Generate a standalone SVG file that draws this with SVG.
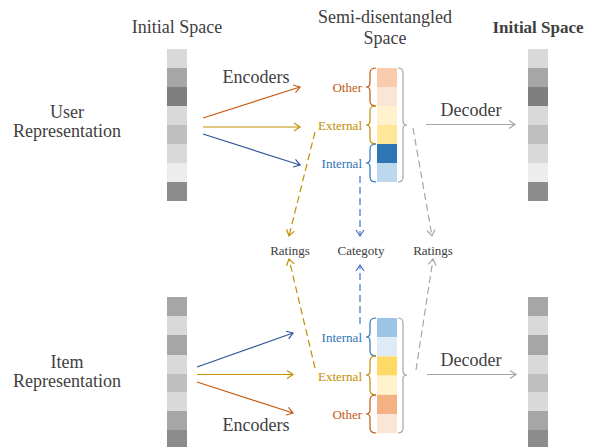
<svg xmlns="http://www.w3.org/2000/svg" width="592" height="447" viewBox="0 0 592 447" font-family="'Liberation Serif', 'DejaVu Serif', serif">
<defs>
<style>
text{font-family:'Liberation Serif','DejaVu Serif',serif;fill:#404040}
.big{font-size:18px}
.bold{font-size:17px;font-weight:bold}
.sm{font-size:13px}
.mid{text-anchor:middle}
.end{text-anchor:end}
.co{fill:#c55a11}.cy{fill:#bf9000}.cb{fill:#2e75b6}
.ln{fill:none;stroke-width:1.2}
.dash{stroke-dasharray:7 4}
.so{stroke:#c55a11}.sy{stroke:#bf9000}.sb{stroke:#2f5597}.sbl{stroke:#4472c4}.sg{stroke:#a6a6a6}
.br{fill:none;stroke-width:1.2}
</style>
<marker id="mo" markerUnits="userSpaceOnUse" markerWidth="12" markerHeight="12" viewBox="-8 -6 10 12" refX="0" refY="0" orient="auto"><path d="M-6,-4 L0,0 L-6,4" fill="none" stroke="#c55a11" stroke-width="1.2"/></marker>
<marker id="my" markerUnits="userSpaceOnUse" markerWidth="12" markerHeight="12" viewBox="-8 -6 10 12" refX="0" refY="0" orient="auto"><path d="M-6,-4 L0,0 L-6,4" fill="none" stroke="#bf9000" stroke-width="1.2"/></marker>
<marker id="mb" markerUnits="userSpaceOnUse" markerWidth="12" markerHeight="12" viewBox="-8 -6 10 12" refX="0" refY="0" orient="auto"><path d="M-6,-4 L0,0 L-6,4" fill="none" stroke="#2f5597" stroke-width="1.2"/></marker>
<marker id="mbl" markerUnits="userSpaceOnUse" markerWidth="12" markerHeight="12" viewBox="-8 -6 10 12" refX="0" refY="0" orient="auto"><path d="M-6,-4 L0,0 L-6,4" fill="none" stroke="#4472c4" stroke-width="1.2"/></marker>
<marker id="mg" markerUnits="userSpaceOnUse" markerWidth="12" markerHeight="12" viewBox="-8 -6 10 12" refX="0" refY="0" orient="auto"><path d="M-6,-4 L0,0 L-6,4" fill="none" stroke="#a6a6a6" stroke-width="1.2"/></marker>
</defs>
<rect width="592" height="447" fill="#ffffff"/>

<g id="headers">
<text class="big mid" x="177" y="33">Initial Space</text>
<text class="big mid" x="385" y="23">Semi-disentangled</text>
<text class="big mid" x="385" y="44">Space</text>
<text class="bold mid" x="538" y="33">Initial Space</text>
</g>

<g id="user-label">
<text class="big mid" x="67" y="118">User</text>
<text class="big mid" x="67" y="137">Representation</text>
</g>
<g id="item-label">
<text class="big mid" x="67" y="368">Item</text>
<text class="big mid" x="67" y="387">Representation</text>
</g>

<g id="user-initial">
<rect x="167" y="49" width="20" height="19" fill="#d9d9d9"/>
<rect x="167" y="68" width="20" height="19" fill="#a6a6a6"/>
<rect x="167" y="87" width="20" height="19" fill="#7f7f7f"/>
<rect x="167" y="106" width="20" height="19" fill="#d9d9d9"/>
<rect x="167" y="125" width="20" height="19" fill="#bfbfbf"/>
<rect x="167" y="144" width="20" height="19" fill="#d9d9d9"/>
<rect x="167" y="163" width="20" height="19" fill="#ededed"/>
<rect x="167" y="182" width="20" height="19" fill="#8c8c8c"/>
</g>
<g id="user-reconstructed">
<rect x="528" y="49" width="20" height="19" fill="#d9d9d9"/>
<rect x="528" y="68" width="20" height="19" fill="#a6a6a6"/>
<rect x="528" y="87" width="20" height="19" fill="#7f7f7f"/>
<rect x="528" y="106" width="20" height="19" fill="#d9d9d9"/>
<rect x="528" y="125" width="20" height="19" fill="#bfbfbf"/>
<rect x="528" y="144" width="20" height="19" fill="#d9d9d9"/>
<rect x="528" y="163" width="20" height="19" fill="#ededed"/>
<rect x="528" y="182" width="20" height="19" fill="#8c8c8c"/>
</g>
<g id="item-initial">
<rect x="167" y="297" width="20" height="19" fill="#a6a6a6"/>
<rect x="167" y="316" width="20" height="19" fill="#d9d9d9"/>
<rect x="167" y="335" width="20" height="20" fill="#a6a6a6"/>
<rect x="167" y="355" width="20" height="19" fill="#d9d9d9"/>
<rect x="167" y="374" width="20" height="18" fill="#bfbfbf"/>
<rect x="167" y="392" width="20" height="19" fill="#d9d9d9"/>
<rect x="167" y="411" width="20" height="19" fill="#a6a6a6"/>
<rect x="167" y="430" width="20" height="19" fill="#8c8c8c"/>
</g>
<g id="item-reconstructed">
<rect x="528" y="297" width="20" height="19" fill="#a6a6a6"/>
<rect x="528" y="316" width="20" height="19" fill="#d9d9d9"/>
<rect x="528" y="335" width="20" height="20" fill="#a6a6a6"/>
<rect x="528" y="355" width="20" height="19" fill="#d9d9d9"/>
<rect x="528" y="374" width="20" height="18" fill="#bfbfbf"/>
<rect x="528" y="392" width="20" height="19" fill="#d9d9d9"/>
<rect x="528" y="411" width="20" height="19" fill="#a6a6a6"/>
<rect x="528" y="430" width="20" height="19" fill="#8c8c8c"/>
</g>

<g id="user-semi">
<rect x="377" y="68" width="20" height="19" fill="#f8cbad"/>
<rect x="377" y="87" width="20" height="19" fill="#fbe5d6"/>
<rect x="377" y="106" width="20" height="19" fill="#fff2cc"/>
<rect x="377" y="125" width="20" height="19" fill="#ffe699"/>
<rect x="377" y="144" width="20" height="19" fill="#2e75b6"/>
<rect x="377" y="163" width="20" height="19" fill="#bdd7ee"/>
<path class="br so" d="M376,68 Q370,68 370,73 L370,83 Q370,87 366,87 Q370,87 370,91 L370,101 Q370,106 376,106"/>
<path class="br sy" d="M376,106 Q370,106 370,111 L370,121 Q370,125 366,125 Q370,125 370,129 L370,139 Q370,144 376,144"/>
<path class="br" stroke="#2e75b6" d="M376,144 Q370,144 370,149 L370,159 Q370,163 366,163 Q370,163 370,167 L370,177 Q370,182 376,182"/>
<path class="br sg" d="M398,68 Q403,68 403,73 L403,121 Q403,125 407,125 Q403,125 403,129 L403,177 Q403,182 398,182"/>
<text class="sm end co" x="362" y="92">Other</text>
<text class="sm end cy" x="362" y="130">External</text>
<text class="sm end cb" x="362" y="168">Internal</text>
</g>

<g id="item-semi">
<rect x="377" y="318" width="20" height="19.2" fill="#9dc3e6"/>
<rect x="377" y="337.2" width="20" height="19.2" fill="#deebf7"/>
<rect x="377" y="356.4" width="20" height="19.2" fill="#ffd966"/>
<rect x="377" y="375.6" width="20" height="19.2" fill="#fff2cc"/>
<rect x="377" y="394.8" width="20" height="19.2" fill="#f4b183"/>
<rect x="377" y="414" width="20" height="19.2" fill="#fbe5d6"/>
<path class="br" stroke="#2e75b6" d="M376,318 Q370,318 370,323 L370,333 Q370,337 366,337 Q370,337 370,341 L370,351 Q370,356 376,356"/>
<path class="br sy" d="M376,356 Q370,356 370,361 L370,371 Q370,375 366,375 Q370,375 370,379 L370,390 Q370,395 376,395"/>
<path class="br so" d="M376,395 Q370,395 370,400 L370,410 Q370,414 366,414 Q370,414 370,418 L370,428 Q370,433 376,433"/>
<path class="br sg" d="M398,318 Q403,318 403,323 L403,371 Q403,375 407,375 Q403,375 403,379 L403,428 Q403,433 398,433"/>
<text class="sm end cb" x="362" y="342">Internal</text>
<text class="sm end cy" x="362" y="381">External</text>
<text class="sm end co" x="362" y="419">Other</text>
</g>

<g id="targets">
<text class="sm mid" x="290" y="255">Ratings</text>
<text class="sm mid" x="361" y="255">Categoty</text>
<text class="sm mid" x="433" y="255">Ratings</text>
</g>

<g id="connector-labels">
<text class="big mid" x="256" y="83">Encoders</text>
<text class="big mid" x="256" y="431">Encoders</text>
<text class="big mid" x="471" y="116">Decoder</text>
<text class="big mid" x="471" y="366">Decoder</text>
</g>

<g id="connectors">
<line class="ln so" x1="203" y1="118" x2="300" y2="87" marker-end="url(#mo)"/>
<line class="ln sy" x1="203" y1="127" x2="300" y2="127" marker-end="url(#my)"/>
<line class="ln sb" x1="203" y1="134" x2="300" y2="165" marker-end="url(#mb)"/>
<line class="ln sg" x1="426" y1="124.5" x2="515" y2="124.5" marker-end="url(#mg)"/>
<line class="ln sb" x1="197" y1="367" x2="293" y2="333" marker-end="url(#mb)"/>
<line class="ln sy" x1="197" y1="374.5" x2="293" y2="374.5" marker-end="url(#my)"/>
<line class="ln so" x1="197" y1="382" x2="293" y2="413" marker-end="url(#mo)"/>
<line class="ln sg" x1="427" y1="374.5" x2="516" y2="374.5" marker-end="url(#mg)"/>
<line class="ln dash sy" x1="315" y1="132" x2="289" y2="236" marker-end="url(#my)"/>
<line class="ln dash sbl" x1="360" y1="176" x2="360" y2="236" marker-end="url(#mbl)"/>
<line class="ln dash sg" x1="413" y1="128" x2="432" y2="236" marker-end="url(#mg)"/>
<line class="ln dash sy" x1="315" y1="368" x2="289" y2="259" marker-end="url(#my)"/>
<line class="ln dash sbl" x1="360" y1="324" x2="360" y2="265" marker-end="url(#mbl)"/>
<line class="ln dash sg" x1="416" y1="370" x2="433" y2="259" marker-end="url(#mg)"/>
</g>
</svg>
